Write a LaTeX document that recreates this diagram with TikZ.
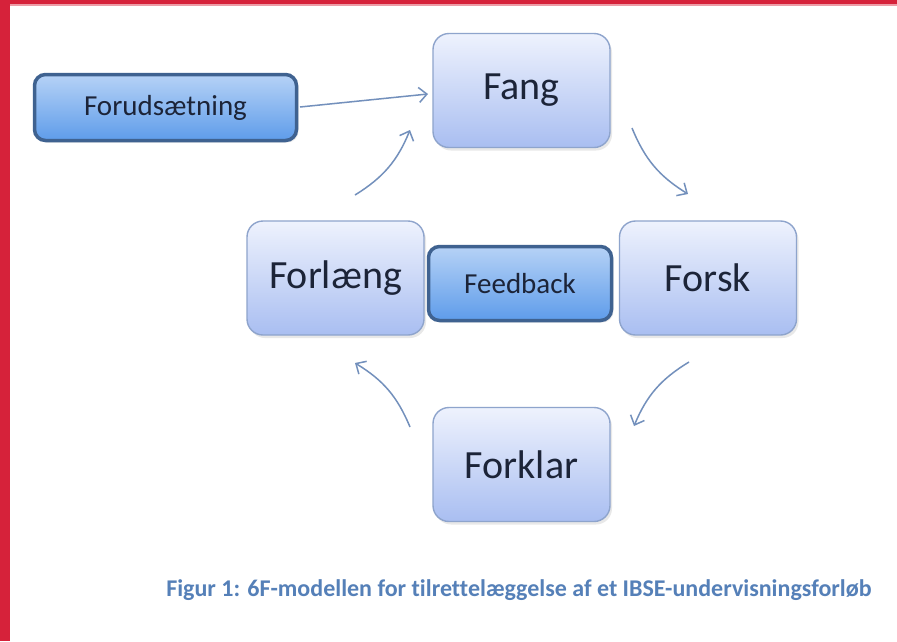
\documentclass[tikz,border=0pt]{standalone}
\usepackage{fontspec}
\setmainfont{Carlito}[RawFeature=-liga]
\usetikzlibrary{arrows.meta,shadows}
\definecolor{redbar}{HTML}{D6223A}
\definecolor{lightline}{HTML}{8EA4CC}
\definecolor{lighttop}{HTML}{EEF2FD}
\definecolor{lightbot}{HTML}{A9BEF1}
\definecolor{darkline}{HTML}{3F6290}
\definecolor{darktop}{HTML}{B6D2F6}
\definecolor{darkbot}{HTML}{5E9CEA}
\definecolor{arrowc}{HTML}{7390BC}
\definecolor{captc}{HTML}{5580B8}
\definecolor{textc}{HTML}{1C2438}
\tikzset{
  stagebox/.style={draw=lightline, line width=1.4pt, rounded corners=16pt,
    top color=lighttop, bottom color=lightbot, minimum width=177pt, minimum height=114pt,
    text=textc, font=\fontsize{40}{42}\selectfont,
    drop shadow={opacity=0.18, shadow xshift=2pt, shadow yshift=-3pt}},
  darkbox/.style={draw=darkline, line width=3.5pt, rounded corners=11pt,
    top color=darktop, bottom color=darkbot, text=textc,
    font=\fontsize{29}{31}\selectfont,
    drop shadow={opacity=0.15, shadow xshift=2pt, shadow yshift=-2pt}},
  arr/.style={draw=arrowc, line width=1.5pt, -{Straight Barb[length=8pt,width=15pt]}}
}
\begin{document}
\begin{tikzpicture}[x=1pt,y=-1pt]
\useasboundingbox (0,0) rectangle (897,641);
\fill[white] (0,0) rectangle (897,641);
\fill[redbar] (0,0) rectangle (897,4);
\fill[redbar!45] (10,4) rectangle (897,5.5);
\fill[redbar] (0,0) rectangle (10,641);

\node[stagebox] (fang) at (521.5,90.5) {Fang};
\node[stagebox] (forsk) at (708,278) {Forsk};
\node[stagebox] (forklar) at (521.5,464.5) {Forklar};
\node[stagebox] (forlaeng) at (335.5,278) {Forlæng};
\node[darkbox, minimum width=262pt, minimum height=66pt] (forud) at (165.5,107.5) {Forudsætning};
\node[darkbox, minimum width=183pt, minimum height=74pt] (feedback) at (520,283.5) {Feedback};

\node[text=captc, font=\bfseries\fontsize{24}{26}\selectfont] (caption) at (519,590) {Figur 1: 6F-modellen for tilrettelæggelse af et IBSE-undervisningsforløb};

\coordinate (a1s) at (300,107);
\coordinate (a1e) at (428,94);
\coordinate (a2s) at (632,128);
\coordinate (a2e) at (688,194);
\coordinate (a3s) at (689,362);
\coordinate (a3e) at (634,426);
\coordinate (a4s) at (410,427);
\coordinate (a4e) at (355,363);
\coordinate (a5s) at (355,195);
\coordinate (a5e) at (410,130);

\draw[arr] (a1s) -- (a1e);
\draw[arr] (a2s) to[bend right=18] (a2e);
\draw[arr] (a3s) to[bend right=18] (a3e);
\draw[arr] (a4s) to[bend right=18] (a4e);
\draw[arr] (a5s) to[bend right=18] (a5e);
\end{tikzpicture}
\end{document}
